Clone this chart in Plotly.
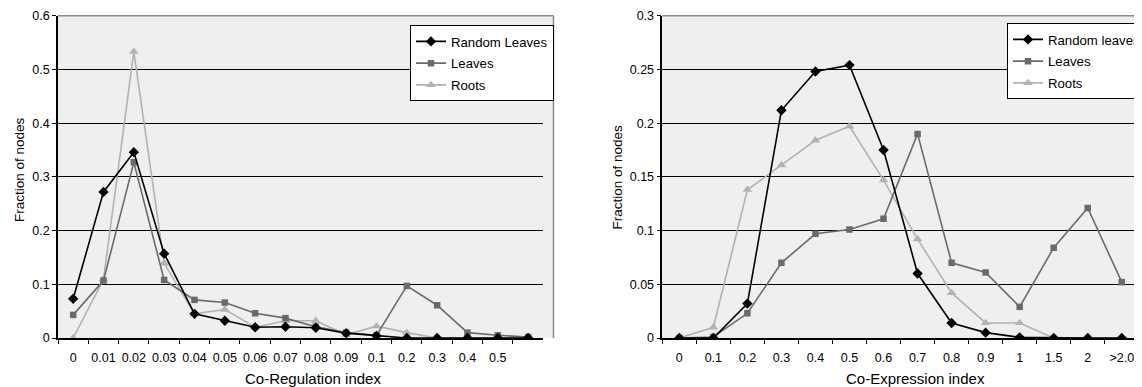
import plotly.graph_objects as go

# ---------------- data ----------------
reg_labels = ["0", "0.01", "0.02", "0.03", "0.04", "0.05", "0.06", "0.07",
              "0.08", "0.09", "0.1", "0.2", "0.3", "0.4", "0.5", " "]
reg_random = [0.073, 0.272, 0.346, 0.157, 0.045, 0.032, 0.020, 0.021,
              0.019, 0.009, 0.004, 0.0, 0.0, 0.0, 0.0, 0.0]
reg_leaves = [0.043, 0.107, 0.327, 0.108, 0.071, 0.066, 0.046, 0.037,
              0.021, 0.010, 0.005, 0.097, 0.061, 0.010, 0.005, 0.002]
reg_roots = [0.0, 0.109, 0.533, 0.139, 0.045, 0.053, 0.020, 0.032,
             0.032, 0.006, 0.022, 0.010, 0.0, 0.0, 0.0, 0.0]

exp_labels = ["0", "0.1", "0.2", "0.3", "0.4", "0.5", "0.6", "0.7",
              "0.8", "0.9", "1", "1.5", "2", ">2.0"]
exp_random = [0.0, 0.0, 0.032, 0.212, 0.248, 0.254, 0.175, 0.060,
              0.014, 0.005, 0.0006, 0.0, 0.0, 0.0]
exp_leaves = [0.0, 0.001, 0.023, 0.070, 0.097, 0.101, 0.111, 0.190,
              0.070, 0.061, 0.029, 0.084, 0.121, 0.052]
exp_roots = [0.0, 0.010, 0.138, 0.161, 0.184, 0.197, 0.147, 0.092,
             0.042, 0.014, 0.014, 0.0, 0.0, 0.0]

# ---------------- styling ----------------
# the html page body has an 8px margin, so the figure is 8px smaller and all
# positions below are given in window pixels and converted.
OFF = 8
W, H = 1142 - OFF, 387 - OFF
FONT = "Liberation Sans, Arial, sans-serif"
C_RANDOM, C_LEAVES, C_ROOTS = "#000000", "#6a6a6a", "#b2b2b2"
BG = "#efefef"


def px_x(p):
    return (p - OFF) / W


def px_y(p):
    return 1 - (p - OFF) / H


Y_BOT, Y_TOP = 338, 15.7
L_X0, L_X1 = 58, 543.3
R_X0, R_X1 = 662.3, 1138.8

fig = go.Figure()


def add_series(x, ys, names, xa, ya, legend):
    specs = [
        (C_RANDOM, "diamond", 8),
        (C_LEAVES, "square", 6.5),
        (C_ROOTS, "triangle-up", 8.5),
    ]
    items = list(zip(ys, names, specs))
    # draw light series first so the black series is on top
    for rank in (2, 1, 0):
        y, name, (c, sym, sz) = items[rank]
        fig.add_trace(go.Scatter(
            x=x, y=y, name=name, mode="lines+markers",
            line=dict(color=c, width=1.6),
            marker=dict(color=c, symbol=sym, size=sz),
            xaxis=xa, yaxis=ya, legend=legend,
            legendgroup=legend + str(rank), legendrank=rank + 1,
        ))


add_series(reg_labels, [reg_random, reg_leaves, reg_roots],
           ["Random Leaves", "Leaves", "Roots"], "x", "y", "legend")
add_series(exp_labels, [exp_random, exp_leaves, exp_roots],
           ["Random leaves", "Leaves", "Roots"], "x2", "y2", "legend2")

ydom = [px_y(Y_BOT), px_y(Y_TOP)]
tickfont = dict(family=FONT, size=12.5, color="#000")

xcommon = dict(type="category", tickson="boundaries", ticks="outside",
               ticklen=4, tickcolor="#000", showline=True, linecolor="#000",
               linewidth=1.5, showgrid=False, zeroline=False, tickangle=0,
               tickfont=tickfont, ticklabelstandoff=7, automargin=False)
ycommon = dict(ticks="outside", ticklen=4, tickcolor="#000", showline=True,
               linecolor="#000", linewidth=1.5, showgrid=True,
               gridcolor="#000", gridwidth=1, zeroline=False,
               tickfont=tickfont, automargin=False)

legend_common = dict(bgcolor="white", bordercolor="#000", borderwidth=1,
                     font=dict(family=FONT, size=13.2, color="#000"),
                     traceorder="grouped", tracegroupgap=1.6, itemwidth=30)

fig.update_layout(
    width=W, height=H,
    margin=dict(l=0, r=0, t=0, b=0, autoexpand=False),
    paper_bgcolor="white", plot_bgcolor=BG,
    font=dict(family=FONT, size=12, color="#000"),
    showlegend=True,
    xaxis=dict(domain=[px_x(L_X0), px_x(L_X1)], anchor="y",
               categoryorder="array", categoryarray=reg_labels,
               range=[-0.5, len(reg_labels) - 0.5], **xcommon),
    yaxis=dict(domain=ydom, anchor="x", range=[0, 0.6],
               tickvals=[0, 0.1, 0.2, 0.3, 0.4, 0.5, 0.6],
               ticktext=["0", "0.1", "0.2", "0.3", "0.4", "0.5", "0.6"],
               **ycommon),
    xaxis2=dict(domain=[px_x(R_X0), px_x(R_X1)], anchor="y2",
                categoryorder="array", categoryarray=exp_labels,
                range=[-0.5, len(exp_labels) - 0.5], **xcommon),
    yaxis2=dict(domain=ydom, anchor="x2", range=[0, 0.3],
                tickvals=[0, 0.05, 0.1, 0.15, 0.2, 0.25, 0.3],
                ticktext=["0", "0.05", "0.1", "0.15", "0.2", "0.25", "0.3"],
                **ycommon),
    legend=dict(x=px_x(554), y=px_y(25.3), xanchor="right", yanchor="top",
                **legend_common),
    legend2=dict(x=px_x(1007), y=px_y(23.3), xanchor="left", yanchor="top",
                 **legend_common),
)

# plot-area frame (background extension and grey border like the original)
GREY = "#8a8a8a"
shapes = [
    dict(type="rect", x0=px_x(L_X0), x1=px_x(553.5), y0=px_y(Y_BOT),
         y1=px_y(Y_TOP), fillcolor=BG, line=dict(width=0), layer="below"),
    dict(type="line", x0=px_x(L_X0), x1=px_x(553.5), y0=px_y(Y_TOP),
         y1=px_y(Y_TOP), line=dict(color=GREY, width=1.5), layer="above"),
    dict(type="line", x0=px_x(553.5), x1=px_x(553.5), y0=px_y(Y_BOT),
         y1=px_y(Y_TOP), line=dict(color=GREY, width=1.5), layer="above"),
    dict(type="rect", x0=px_x(R_X0), x1=1.0, y0=px_y(Y_BOT), y1=px_y(Y_TOP),
         fillcolor=BG, line=dict(width=0), layer="below"),
    dict(type="line", x0=px_x(R_X0), x1=1.0, y0=px_y(Y_TOP), y1=px_y(Y_TOP),
         line=dict(color=GREY, width=1.5), layer="above"),
]
for s in shapes:
    s.update(xref="paper", yref="paper")
fig.update_layout(shapes=shapes)

# axis titles
ann = [
    dict(text="Fraction of nodes", x=px_x(19), y=px_y(170), textangle=-90,
         size=13.5),
    dict(text="Fraction of nodes", x=px_x(617.5), y=px_y(177), textangle=-90,
         size=13.5),
    dict(text="Co-Regulation index", x=px_x(313), y=px_y(378.5), size=15),
    dict(text="Co-Expression index", x=px_x(915), y=px_y(378.5), size=15),
]
for a in ann:
    sz = a.pop("size")
    a.update(xref="paper", yref="paper", showarrow=False,
             xanchor="center", yanchor="middle",
             font=dict(family=FONT, size=sz, color="#000"))
fig.update_layout(annotations=ann)

fig.write_html("out.html")
